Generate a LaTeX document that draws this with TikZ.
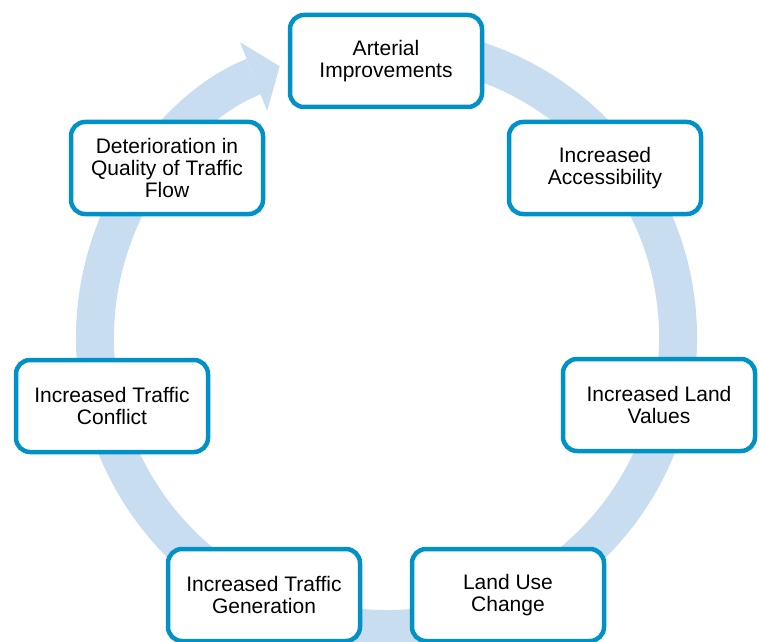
\documentclass[tikz,border=0pt]{standalone}
\usepackage{fontspec}
\setmainfont{Liberation Sans}
\usepackage{tikz}
\usetikzlibrary{arrows.meta}
\usetikzlibrary{positioning}

\definecolor{boxblue}{RGB}{0,146,199}
\definecolor{ringblue}{RGB}{200,221,239}

\tikzset{
    stage/.style={draw=boxblue, line width=4.5pt, rounded corners=14pt,
                  fill=white, minimum width=192pt, minimum height=92pt,
                  align=center, inner sep=2pt,
                  font=\fontsize{21}{22}\selectfont},
    ring/.style={draw=ringblue, line width=38pt,
                 -{Triangle[length=28pt,width=74pt,line width=0pt]}}
}

\begin{document}
\begin{tikzpicture}[x=1pt,y=1pt]
    \useasboundingbox (0,0) rectangle (759,641);

    % the big circular arrow, clockwise
    \coordinate (hub) at (386.5,303.5);
    \draw[ring] ([shift={(80:291.5)}]hub) arc[start angle=80, end angle=-248.5, radius=291.5];

    % Add or remove stages here, use the tuple for location
    \node[stage] (art)  at (386,580) {Arterial\\Improvements};
    \node[stage] (acc)  at (605,473) {Increased\\Accessibility};
    \node[stage] (lval) at (659,236) {Increased Land\\Values};
    \node[stage] (luse) at (508,46)  {Land Use\\Change};
    \node[stage] (tgen) at (264,46)  {Increased Traffic\\Generation};
    \node[stage] (tcon) at (112,235) {Increased Traffic\\Conflict};
    \node[stage] (det)  at (167,473) {Deterioration in\\Quality of Traffic\\Flow};

\end{tikzpicture}
\end{document}
